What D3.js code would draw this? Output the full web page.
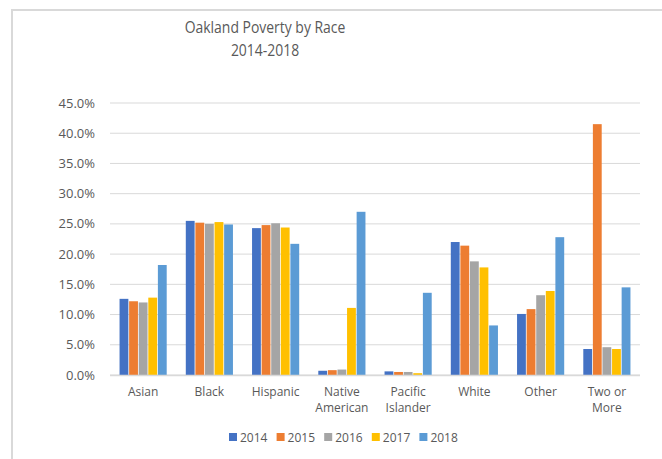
<!DOCTYPE html>
<html>
<head>
<meta charset="utf-8">
<script src="https://cdn.jsdelivr.net/npm/d3@7"></script>
<style>
  body { margin: 0; background: #fff; }
  text { font-family: "Open Sans", "Noto Sans", sans-serif; fill: #595959; }
</style>
</head>
<body>
<div id="chart"></div>
<script>
// data
const categories = [["Asian"], ["Black"], ["Hispanic"], ["Native", "American"], ["Pacific", "Islander"], ["White"], ["Other"], ["Two or", "More"]];
const years = ["2014", "2015", "2016", "2017", "2018"];
const v2014 = [12.6, 25.5, 24.3, 0.7, 0.6, 22.0, 10.1, 4.3];
const v2015 = [12.2, 25.2, 24.8, 0.8, 0.5, 21.4, 10.9, 41.5];
const v2016 = [12.0, 25.0, 25.1, 0.9, 0.5, 18.8, 13.2, 4.6];
const v2017 = [12.8, 25.3, 24.4, 11.1, 0.3, 17.8, 13.9, 4.3];
const v2018 = [18.2, 24.9, 21.7, 27.0, 13.6, 8.2, 22.8, 14.5];
const yTicks = [0, 5, 10, 15, 20, 25, 30, 35, 40, 45];
const colors = ["#4472c4", "#ed7d31", "#a5a5a5", "#ffc000", "#5b9bd5"];

const series = [v2014, v2015, v2016, v2017, v2018];

const width = 662, height = 459;
const plot = { left: 110, right: 640, top: 103, bottom: 375 };

const svg = d3.create("svg")
    .attr("width", width)
    .attr("height", height);

// chart frame (only top and left edges visible)
svg.append("line").attr("x1", 11).attr("x2", width).attr("y1", 10).attr("y2", 10)
    .attr("stroke", "#d9d9d9").attr("stroke-width", 2);
svg.append("line").attr("x1", 12).attr("x2", 12).attr("y1", 10).attr("y2", height)
    .attr("stroke", "#d9d9d9").attr("stroke-width", 2);

// title (slightly condensed to mimic the narrow original font)
const title = svg.append("g").attr("transform", "translate(265,0) scale(0.9,1)");
title.append("text").attr("x", 0).attr("y", 33).attr("text-anchor", "middle")
    .style("font-size", "15.5px").text("Oakland Poverty by Race");
title.append("text").attr("x", 0).attr("y", 56).attr("text-anchor", "middle")
    .style("font-size", "15.5px").text("2014-2018");

const x = d3.scaleBand()
    .domain(d3.range(categories.length))
    .range([plot.left, plot.right])
    .paddingInner(0.265)
    .paddingOuter(0.1325);

const xi = d3.scaleBand()
    .domain(d3.range(years.length))
    .range([0, x.bandwidth()])
    .padding(0.08);

const y = d3.scaleLinear().domain([0, 45]).range([plot.bottom, plot.top]);

// gridlines
svg.append("g")
    .selectAll("line")
    .data(yTicks)
    .join("line")
    .attr("x1", plot.left).attr("x2", plot.right)
    .attr("y1", d => y(d)).attr("y2", d => y(d))
    .attr("stroke", "#d9d9d9").attr("stroke-width", 1);

// y labels
svg.append("g")
    .selectAll("text")
    .data(yTicks)
    .join("text")
    .attr("x", 95).attr("y", d => y(d) + 4.5)
    .attr("text-anchor", "end")
    .style("font-size", "13px")
    .text(d => d.toFixed(1) + "%");

// bars
svg.append("g")
    .selectAll("g")
    .data(series)
    .join("g")
    .attr("fill", (d, i) => colors[i])
    .each(function (vals, si) {
        d3.select(this).selectAll("rect")
            .data(vals)
            .join("rect")
            .attr("x", (d, ci) => x(ci) + xi(si))
            .attr("width", xi.bandwidth())
            .attr("y", d => y(d))
            .attr("height", d => y(0) - y(d));
    });

// x axis line
svg.append("line").attr("x1", plot.left).attr("x2", plot.right)
    .attr("y1", plot.bottom + 0.5).attr("y2", plot.bottom + 0.5)
    .attr("stroke", "#d9d9d9").attr("stroke-width", 1.5);

// category labels
svg.append("g")
    .selectAll("text")
    .data(categories)
    .join("text")
    .attr("text-anchor", "middle")
    .style("font-size", "12px")
    .each(function (lines, i) {
        d3.select(this).selectAll("tspan")
            .data(lines)
            .join("tspan")
            .attr("x", x(i) + x.bandwidth() / 2)
            .attr("y", (d, j) => 396 + j * 16)
            .text(d => d);
    });

// legend
const legend = svg.append("g")
    .selectAll("g")
    .data(years)
    .join("g")
    .attr("transform", (d, i) => `translate(${229 + i * 47.6},433)`);
legend.append("rect").attr("width", 8).attr("height", 8)
    .attr("fill", (d, i) => colors[i]);
legend.append("text").attr("x", 11).attr("y", 8.5)
    .style("font-size", "12px").text(d => d);

document.getElementById("chart").appendChild(svg.node());
</script>
</body>
</html>
